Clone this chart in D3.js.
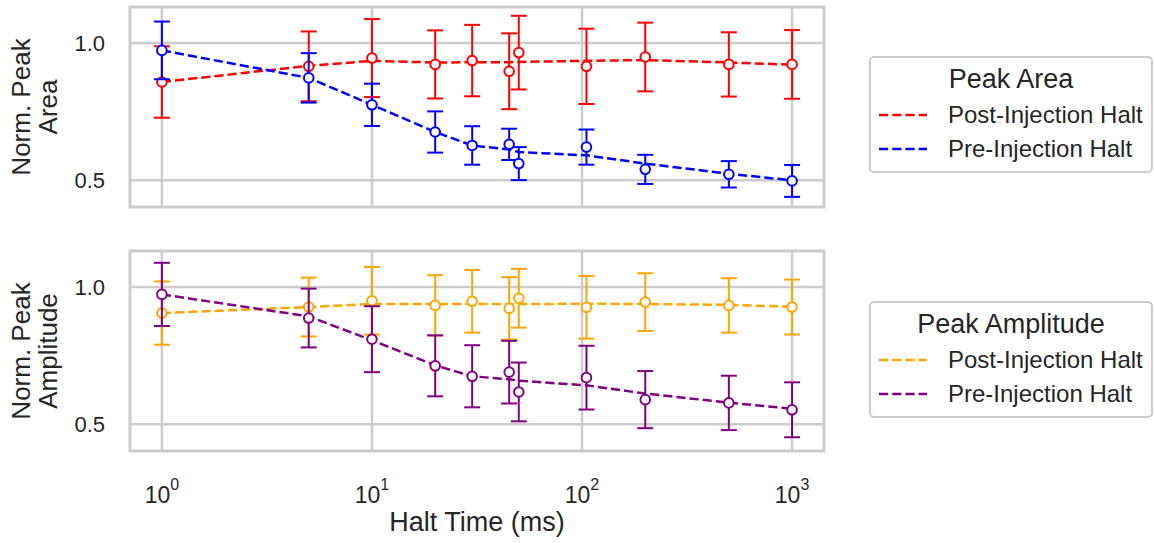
<!DOCTYPE html>
<html>
<head>
<meta charset="utf-8">
<script src="https://cdn.jsdelivr.net/npm/d3@7"></script>
<style>
  body { margin: 0; background: #fff; }
  svg { font-family: "Liberation Sans", Arial, sans-serif; }
</style>
</head>
<body>
<script>
// halt times (ms) shared by all series
var haltTimes = [1, 5, 10, 20, 30, 45, 50, 105, 200, 500, 1000];
var xTicks = [1, 10, 100, 1000];
var yTicks = [0.5, 1.0];

// Peak area
var areaPost = [0.858, 0.915, 0.945, 0.922, 0.936, 0.897, 0.965, 0.915, 0.949, 0.922, 0.922];
var areaPostErr = [0.13, 0.127, 0.142, 0.124, 0.13, 0.138, 0.134, 0.137, 0.125, 0.117, 0.125];
var areaPostFit = [0.858, 0.917, 0.935, 0.929, 0.93, 0.93, 0.931, 0.935, 0.938, 0.929, 0.921];
var areaPre = [0.973, 0.873, 0.775, 0.676, 0.627, 0.631, 0.561, 0.621, 0.54, 0.522, 0.498];
var areaPreErr = [0.105, 0.09, 0.077, 0.075, 0.07, 0.057, 0.06, 0.064, 0.053, 0.048, 0.058];
var areaPreFit = [0.973, 0.873, 0.775, 0.676, 0.627, 0.612, 0.603, 0.591, 0.561, 0.524, 0.5];

// Peak amplitude
var ampPost = [0.905, 0.927, 0.95, 0.933, 0.948, 0.922, 0.959, 0.926, 0.945, 0.933, 0.927];
var ampPostErr = [0.115, 0.107, 0.123, 0.11, 0.114, 0.114, 0.107, 0.114, 0.105, 0.099, 0.1];
var ampPostFit = [0.905, 0.927, 0.938, 0.938, 0.938, 0.938, 0.938, 0.939, 0.938, 0.935, 0.928];
var ampPre = [0.973, 0.887, 0.81, 0.713, 0.675, 0.69, 0.618, 0.67, 0.59, 0.578, 0.553];
var ampPreErr = [0.115, 0.107, 0.12, 0.111, 0.113, 0.114, 0.107, 0.116, 0.104, 0.099, 0.1];
var ampPreFit = [0.973, 0.893, 0.806, 0.715, 0.675, 0.664, 0.659, 0.642, 0.612, 0.579, 0.557];

var w = 1154, h = 543;
var left = 130, right = 824;
var grey = "#cccccc", ink = "#262626";
var dash = "9.2,4";

var svg = d3.select("body").append("svg")
  .attr("width", w)
  .attr("height", h);

var x = d3.scaleLog().domain([0.705, 1419]).range([left, right]);

var panels = [
  {
    top: 7, bottom: 207, label: ["Norm. Peak", "Area"], title: "Peak Area", legendTop: 57,
    series: [
      { name: "Post-Injection Halt", color: "#ff0000", v: areaPost, e: areaPostErr, fit: areaPostFit },
      { name: "Pre-Injection Halt", color: "#0000ff", v: areaPre, e: areaPreErr, fit: areaPreFit }
    ]
  },
  {
    top: 251, bottom: 451, label: ["Norm. Peak", "Amplitude"], title: "Peak Amplitude", legendTop: 302,
    series: [
      { name: "Post-Injection Halt", color: "#ffa500", v: ampPost, e: ampPostErr, fit: ampPostFit },
      { name: "Pre-Injection Halt", color: "#800080", v: ampPre, e: ampPreErr, fit: ampPreFit }
    ]
  }
];

panels.forEach(function (p) {
  var y = d3.scaleLinear().domain([0.403, 1.131]).range([p.bottom, p.top]);
  var g = svg.append("g");

  // grid
  g.selectAll("line.vgrid")
    .data(xTicks)
    .enter()
    .append("line")
    .attr("x1", function (d) { return x(d); })
    .attr("x2", function (d) { return x(d); })
    .attr("y1", p.top)
    .attr("y2", p.bottom)
    .attr("stroke", grey)
    .attr("stroke-width", 2.5);
  g.selectAll("line.hgrid")
    .data(yTicks)
    .enter()
    .append("line")
    .attr("x1", left)
    .attr("x2", right)
    .attr("y1", function (d) { return y(d); })
    .attr("y2", function (d) { return y(d); })
    .attr("stroke", grey)
    .attr("stroke-width", 2.5);

  // y tick labels
  g.selectAll("text.ytick")
    .data(yTicks)
    .enter()
    .append("text")
    .attr("x", 105)
    .attr("y", function (d) { return y(d); })
    .attr("dy", "0.35em")
    .attr("text-anchor", "end")
    .attr("font-size", "22px")
    .attr("fill", ink)
    .text(function (d) { return d3.format(".1f")(d); });

  // y label, two lines
  var cy = (p.top + p.bottom) / 2;
  var lab = g.append("text")
    .attr("transform", "translate(30," + cy + ") rotate(-90)")
    .attr("text-anchor", "middle")
    .attr("font-size", "26px")
    .attr("fill", ink);
  lab.selectAll("tspan")
    .data(p.label)
    .enter()
    .append("tspan")
    .attr("x", 0)
    .attr("dy", function (d, i) { return i == 0 ? 0 : "1.05em"; })
    .text(function (d) { return d; });

  // series
  p.series.forEach(function (s) {
    var pts = haltTimes.map(function (t, i) {
      return { t: t, v: s.v[i], e: s.e[i], f: s.fit[i] };
    });

    var line = d3.line()
      .x(function (d) { return x(d.t); })
      .y(function (d) { return y(d.f); });
    g.append("path")
      .datum(pts)
      .attr("d", line)
      .attr("fill", "none")
      .attr("stroke", s.color)
      .attr("stroke-width", 2.5)
      .attr("stroke-dasharray", dash);

    var bars = g.append("g")
      .attr("stroke", s.color)
      .attr("stroke-width", 2);
    bars.selectAll("line.bar")
      .data(pts)
      .enter()
      .append("line")
      .attr("x1", function (d) { return x(d.t); })
      .attr("x2", function (d) { return x(d.t); })
      .attr("y1", function (d) { return y(d.v - d.e); })
      .attr("y2", function (d) { return y(d.v + d.e); });
    [-1, 1].forEach(function (sign) {
      bars.selectAll("line.cap" + sign)
        .data(pts)
        .enter()
        .append("line")
        .attr("x1", function (d) { return x(d.t) - 8; })
        .attr("x2", function (d) { return x(d.t) + 8; })
        .attr("y1", function (d) { return y(d.v + sign * d.e); })
        .attr("y2", function (d) { return y(d.v + sign * d.e); });
    });

    g.selectAll(null)
      .data(pts)
      .enter()
      .append("circle")
      .attr("cx", function (d) { return x(d.t); })
      .attr("cy", function (d) { return y(d.v); })
      .attr("r", 4.8)
      .attr("fill", "#fff")
      .attr("stroke", s.color)
      .attr("stroke-width", 2);
  });

  // frame
  g.append("rect")
    .attr("x", left)
    .attr("y", p.top)
    .attr("width", right - left)
    .attr("height", p.bottom - p.top)
    .attr("fill", "none")
    .attr("stroke", grey)
    .attr("stroke-width", 3);

  // legend
  var lg = svg.append("g").attr("transform", "translate(870," + p.legendTop + ")");
  lg.append("rect")
    .attr("width", 282)
    .attr("height", 115)
    .attr("rx", 4)
    .attr("fill", "#fff")
    .attr("stroke", grey)
    .attr("stroke-width", 2);
  lg.append("text")
    .attr("x", 141)
    .attr("y", 22)
    .attr("dy", "0.35em")
    .attr("text-anchor", "middle")
    .attr("font-size", "27px")
    .attr("fill", ink)
    .text(p.title);
  p.series.forEach(function (s, i) {
    var ly = 58 + i * 34;
    lg.append("line")
      .attr("x1", 9)
      .attr("x2", 57)
      .attr("y1", ly)
      .attr("y2", ly)
      .attr("stroke", s.color)
      .attr("stroke-width", 2.5)
      .attr("stroke-dasharray", dash);
    lg.append("text")
      .attr("x", 78)
      .attr("y", ly)
      .attr("dy", "0.35em")
      .attr("font-size", "24px")
      .attr("fill", ink)
      .text(s.name);
  });
});

// x ticks, 10^n
var xt = svg.selectAll("text.xtick")
  .data(xTicks)
  .enter()
  .append("text")
  .attr("x", function (d) { return x(d); })
  .attr("y", 503)
  .attr("text-anchor", "middle")
  .attr("font-size", "23px")
  .attr("fill", ink);
xt.append("tspan").text("10");
xt.append("tspan")
  .attr("font-size", "16px")
  .attr("dy", "-0.8em")
  .text(function (d) { return Math.round(Math.log10(d)); });

svg.append("text")
  .attr("x", (left + right) / 2)
  .attr("y", 531)
  .attr("text-anchor", "middle")
  .attr("font-size", "27px")
  .attr("fill", ink)
  .text("Halt Time (ms)");
</script>
</body>
</html>
